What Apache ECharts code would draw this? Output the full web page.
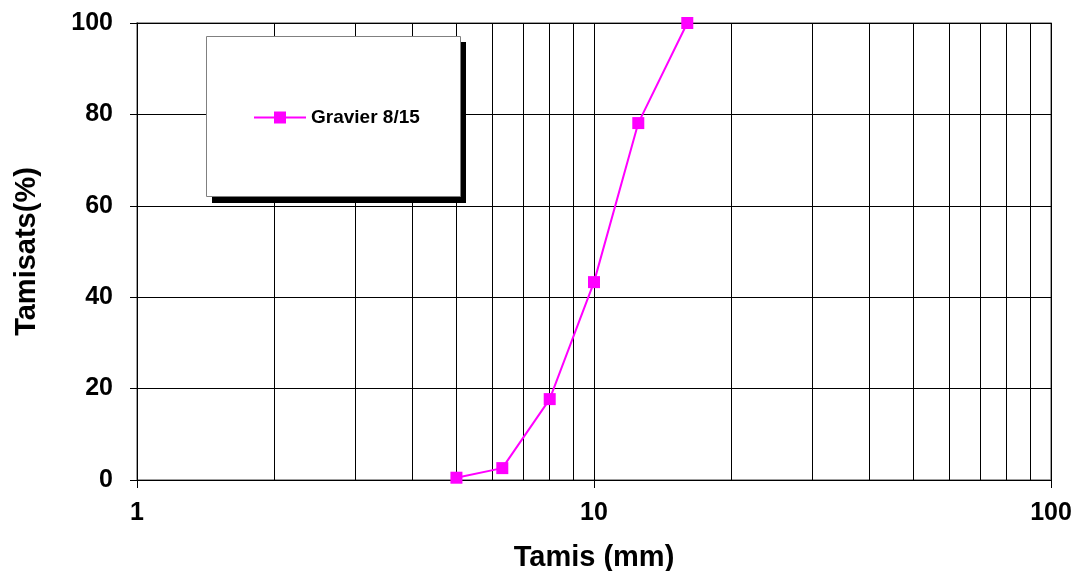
<!DOCTYPE html>
<html><head><meta charset="utf-8">
<script src="https://cdn.jsdelivr.net/npm/echarts@6/dist/echarts.min.js"></script>
<style>html,body{margin:0;padding:0;background:#fff}#c{width:1078px;height:571px}</style>
</head><body><div id="c"></div>
<script>
const seriesName = 'Gravier 8/15';
const sieveSizes = [5, 6.3, 8, 10, 12.5, 16];
const passingPct = [0.5, 2.6, 17.7, 43.3, 78.1, 100];
const minorGridX = [2,3,4,5,6,7,8,9,20,30,40,50,60,70,80,90];
const yTicks = [0,20,40,60,80,100];

const chart = echarts.init(document.getElementById('c'));
const F = 'Arial, "Liberation Sans", sans-serif';
chart.setOption({
  animation: false,
  backgroundColor: '#fff',
  grid: {left: 137, right: 27, top: 23, bottom: 91, show: true, borderColor: '#808080', borderWidth: 1.5,
         containLabel: false, outerBoundsMode: 'none'},
  xAxis: {
    type: 'log', logBase: 10, min: 1, max: 100,
    name: 'Tamis (mm)', nameLocation: 'middle', nameGap: 63,
    nameTextStyle: {fontFamily: F, fontWeight: 'bold', fontSize: 29, color: '#000'},
    axisLine: {lineStyle: {color: '#000', width: 1}},
    axisTick: {show: true, length: 8, lineStyle: {color: '#000'}},
    axisLabel: {fontFamily: F, fontWeight: 'bold', fontSize: 25, color: '#000', margin: 21},
    splitLine: {show: true, lineStyle: {color: '#000', width: 1}}
  },
  yAxis: {
    type: 'value', min: 0, max: 100, interval: 20,
    name: 'Tamisats(%)', nameLocation: 'middle', nameGap: 96, nameRotate: 90,
    nameTextStyle: {fontFamily: F, fontWeight: 'bold', fontSize: 29, color: '#000'},
    axisLine: {show: true, lineStyle: {color: '#000', width: 1}},
    axisTick: {show: true, length: 7, lineStyle: {color: '#000'}},
    axisLabel: {fontFamily: F, fontWeight: 'bold', fontSize: 25, color: '#000', margin: 24},
    splitLine: {show: true, lineStyle: {color: '#000', width: 1}}
  },
  legend: {
    left: 253, top: 108, itemWidth: 52, itemHeight: 15, padding: 0, z: 20,
    data: [seriesName],
    lineStyle: {width: 2},
    textStyle: {fontFamily: F, fontWeight: 'bold', fontSize: 19, color: '#000'}
  },
  graphic: [
    {type: 'rect', z: 10, shape: {x: 212, y: 42, width: 254, height: 161}, style: {fill: '#000'}, silent: true},
    {type: 'rect', z: 11, shape: {x: 206.5, y: 36.5, width: 254, height: 160}, style: {fill: '#fff', stroke: '#808080', lineWidth: 1}, silent: true}
  ],
  series: [
    {
      name: 'grid', type: 'line', data: [], silent: true,
      markLine: {silent: true, symbol: 'none', label: {show: false},
        lineStyle: {color: '#000', width: 1, type: 'solid'},
        data: minorGridX.map(v => ({xAxis: v}))}
    },
    {
      name: seriesName, type: 'line', z: 5,
      data: sieveSizes.map((s, i) => [s, passingPct[i]]),
      symbol: 'rect', symbolSize: 12,
      lineStyle: {color: '#FF00FF', width: 2},
      itemStyle: {color: '#FF00FF'}
    }
  ]
});
</script></body></html>
